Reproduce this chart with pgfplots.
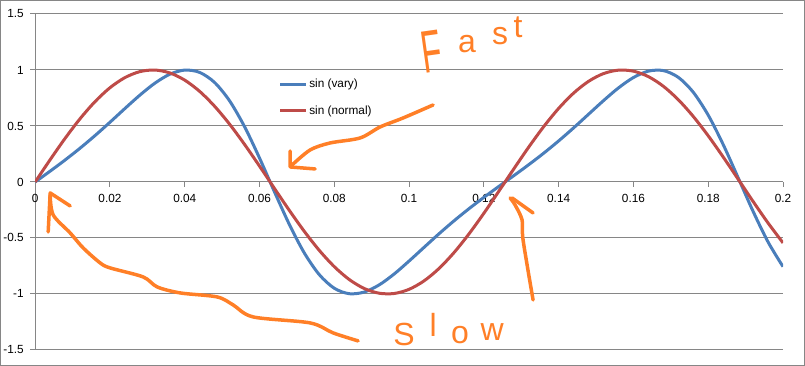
\documentclass[border=0pt]{standalone}
\usepackage{fontspec}
\setmainfont{Liberation Sans}
\usepackage{pgfplots}
\pgfplotsset{compat=1.18}
\definecolor{xblue}{HTML}{4A7EBB}
\definecolor{xred}{HTML}{BE4B48}
\definecolor{xgrid}{HTML}{868686}
\definecolor{xorange}{HTML}{FF7F27}
\pgfplotstableread{
x vary normal
0.000 0.0000 0.0000
0.004 0.0965 0.1987
0.008 0.1962 0.3894
0.012 0.3016 0.5646
0.016 0.4141 0.7174
0.020 0.5332 0.8415
0.024 0.6560 0.9320
0.028 0.7753 0.9854
0.032 0.8819 0.9996
0.036 0.9619 0.9738
0.040 0.9991 0.9093
0.044 0.9782 0.8085
0.048 0.8878 0.6755
0.052 0.7240 0.5155
0.056 0.4932 0.3350
0.060 0.2133 0.1411
0.064 -0.0887 -0.0584
0.068 -0.3814 -0.2555
0.072 -0.6355 -0.4425
0.076 -0.8285 -0.6119
0.080 -0.9496 -0.7568
0.084 -0.9982 -0.8716
0.088 -0.9834 -0.9516
0.092 -0.9193 -0.9937
0.096 -0.8222 -0.9962
0.100 -0.7061 -0.9589
0.104 -0.5841 -0.8835
0.108 -0.4629 -0.7728
0.112 -0.3475 -0.6313
0.116 -0.2393 -0.4646
0.120 -0.1375 -0.2794
0.124 -0.0400 -0.0831
0.128 0.0562 0.1165
0.132 0.1542 0.3115
0.136 0.2570 0.4941
0.140 0.3665 0.6570
0.144 0.4830 0.7937
0.148 0.6049 0.8987
0.152 0.7265 0.9679
0.156 0.8400 0.9985
0.160 0.9327 0.9894
0.164 0.9897 0.9407
0.168 0.9946 0.8546
0.172 0.9344 0.7344
0.176 0.8008 0.5849
0.180 0.5965 0.4121
0.184 0.3341 0.2229
0.188 0.0377 0.0248
0.192 -0.2627 -0.1743
0.196 -0.5361 -0.3665
0.200 -0.7566 -0.5440
}\datatable
\begin{document}
\begin{tikzpicture}
\begin{axis}[
  at={(0pt,0pt)}, anchor=south west,
  scale only axis, width=748pt, height=336pt,
  xmin=0, xmax=0.2, ymin=-1.5, ymax=1.5,
  axis x line*=middle, axis y line*=left,
  hide obscured x ticks=false, hide obscured y ticks=false,
  axis line style={xgrid, line width=1pt, -},
  xtick={0,0.02,0.04,0.06,0.08,0.1,0.12,0.14,0.16,0.18,0.2},
  xticklabels={0,0.02,0.04,0.06,0.08,0.1,0.12,0.14,0.16,0.18,0.2},
  ytick={-1.5,-1,-0.5,0,0.5,1,1.5},
  yticklabels={-1.5,-1,-0.5,0,0.5,1,1.5},
  tick align=outside, major tick length=5pt,
  tick style={xgrid, line width=1pt},
  ymajorgrids, grid style={xgrid, line width=1pt},
  ticklabel style={font=\fontsize{11.8}{12}\selectfont},
  xticklabel style={yshift=-4pt},
  yticklabel style={xshift=-3pt},
  legend image code/.code={\draw[#1] (0pt,0pt) -- (26pt,0pt);},
  legend cell align=left,
  legend style={draw=none, fill=none, at={(axis description cs:0.3255,0.7515)},
    anchor=west, inner sep=0pt, row sep=13pt,
    font=\fontsize{11.8}{12}\selectfont,
    nodes={inner sep=1.5pt}},
]
\addplot[xblue, line width=3pt, smooth] table[x=x, y=vary] {\datatable};
\addlegendentry{sin (vary)}
\addplot[xred, line width=3pt, smooth] table[x=x, y=normal] {\datatable};
\addlegendentry{sin (normal)}
\end{axis}
% hand-drawn annotations
\begin{scope}[xorange, line width=3.5pt, line cap=round, line join=round]
\draw plot[smooth] coordinates {(323pt,9pt) (298pt,17pt) (275pt,27pt) (218pt,33pt) (198pt,45pt) (182pt,53pt) (145pt,57pt) (122pt,63pt) (108pt,73pt) (75pt,82pt) (65pt,87pt) (48pt,102pt) (35pt,117pt) (18pt,135pt) (15pt,155pt)};
\draw (13pt,118pt) -- (15pt,157pt) -- (35pt,144pt);
\draw plot[smooth] coordinates {(398pt,245pt) (368pt,232pt) (345pt,223pt) (325pt,212pt) (295pt,207pt) (275pt,200pt) (257pt,185pt)};
\draw (255pt,199pt) -- (255pt,183pt) -- (280pt,181pt);
\draw plot[smooth] coordinates {(498pt,50pt) (488pt,110pt) (487pt,130pt) (480pt,145pt) (475pt,152pt)};
\draw (477pt,152pt) -- (498pt,137pt);
\end{scope}
\begin{scope}[text=xorange, font=\fontsize{32}{32}\selectfont]
\node[rotate=8, xscale=0.55, font=\fontsize{60}{60}\selectfont] at (397pt,298pt) {F};
\node at (432pt,306pt) {a};
\node at (465pt,314pt) {s};
\node at (483pt,323pt) {t};
\node at (369pt,15pt) {S};
\node at (398pt,25pt) {l};
\node at (425pt,15pt) {o};
\node at (457pt,18pt) {w};
\end{scope}
\draw[xgrid, line width=1pt] (-34.5pt,-15.5pt) rectangle (769.5pt,349.5pt);
\end{tikzpicture}
\end{document}
